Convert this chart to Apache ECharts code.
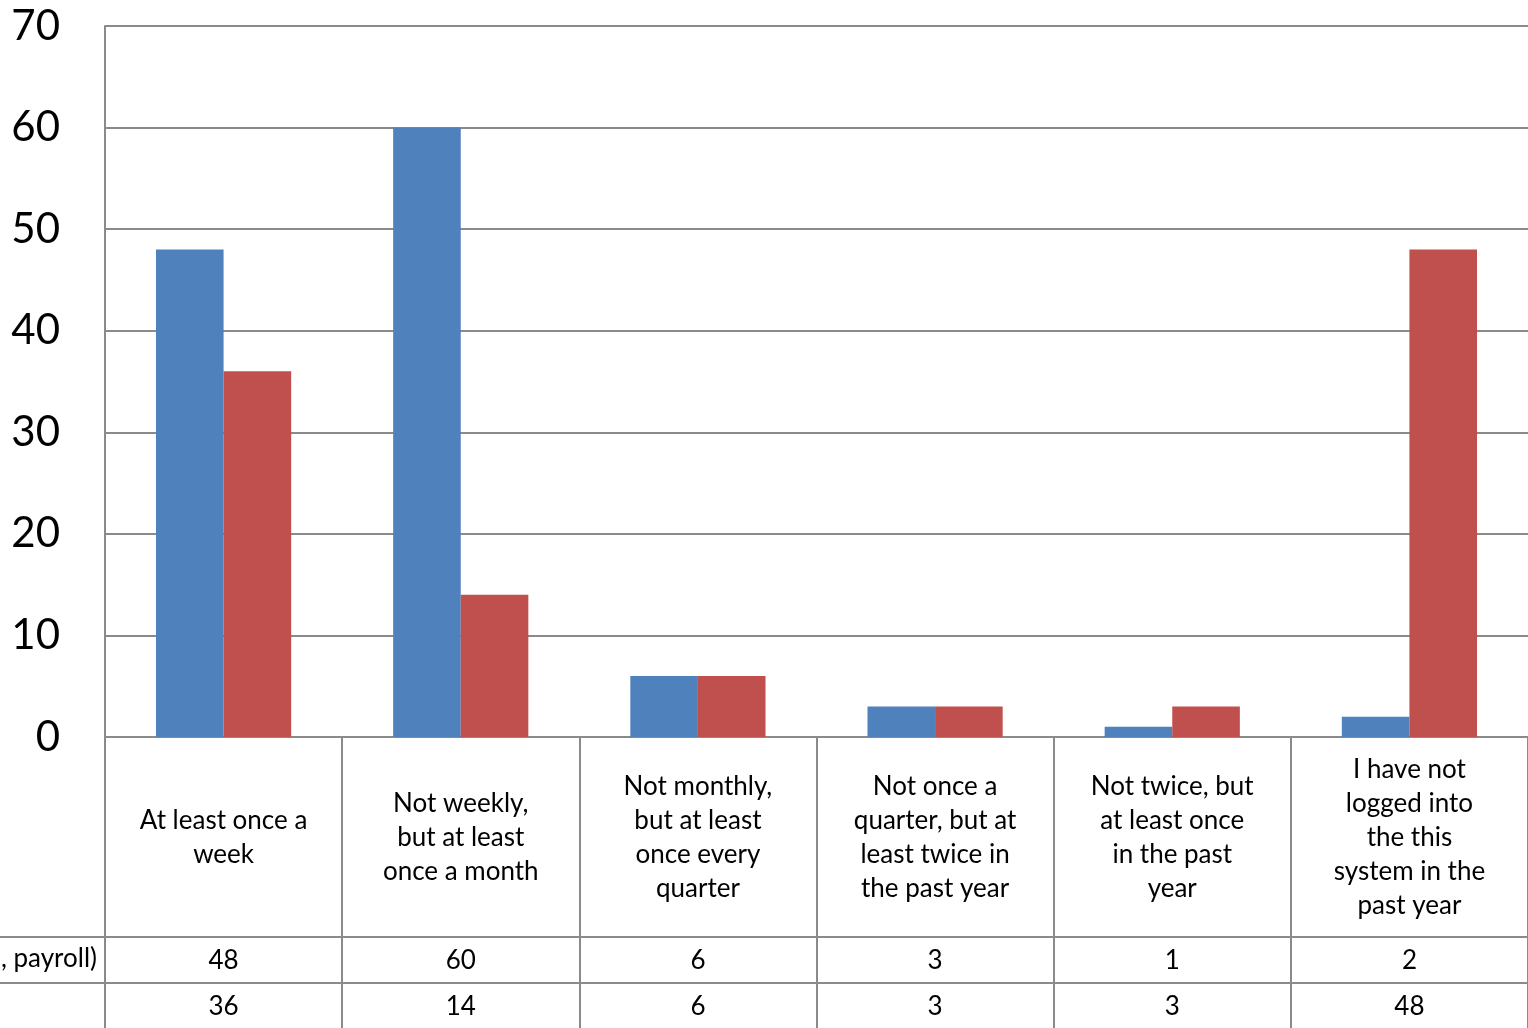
<!DOCTYPE html>
<html>
<head>
<meta charset="utf-8">
<script src="https://cdn.jsdelivr.net/npm/echarts@6/dist/echarts.min.js"></script>
<style>
html,body{margin:0;padding:0;background:#fff;}
#c{width:1528px;height:1028px;}
</style>
</head>
<body>
<div id="c"></div>
<script>
const categories = [
  'At least once a\nweek',
  'Not weekly,\nbut at least\nonce a month',
  'Not monthly,\nbut at least\nonce every\nquarter',
  'Not once a\nquarter, but at\nleast twice in\nthe past year',
  'Not twice, but\nat least once\nin the past\nyear',
  'I have not\nlogged into\nthe this\nsystem in the\npast year'
];
const seriesNames = [', payroll)', ''];
const seriesA = [48, 60, 6, 3, 1, 2];
const seriesB = [36, 14, 6, 3, 3, 48];
const yTicks = { min: 0, max: 70, interval: 10 };

const FONT = 'Lato';
const TS = 26;
const LINE = '#8a8a8a';
const chart = echarts.init(document.getElementById('c'), null, {renderer: 'canvas'});

function tableAxis(data, offset, tickLen) {
  return {
    type: 'category', data: data.map(String), position: 'bottom', offset: offset,
    gridIndex: 0,
    boundaryGap: true,
    axisLine: {show: true, lineStyle: {color: LINE, width: 2}},
    axisTick: {show: true, length: tickLen, lineStyle: {color: LINE, width: 2}},
    axisLabel: {interval: 0, margin: 24, verticalAlign: 'middle', color: '#000',
      fontFamily: FONT, fontSize: TS},
    splitLine: {show: false}
  };
}

chart.setOption({
  animation: false,
  backgroundColor: '#fff',
  grid: {left: 105, right: 0, top: 26, bottom: 291, containLabel: false, outerBoundsMode: 'none'},
  xAxis: [
    {
      type: 'category', data: categories, position: 'bottom', boundaryGap: true,
      axisLine: {show: true, lineStyle: {color: LINE, width: 2}},
      axisTick: {show: true, length: 200, lineStyle: {color: LINE, width: 2}},
      axisLabel: {interval: 0, margin: 101, verticalAlign: 'middle', align: 'center',
        color: '#000', fontFamily: FONT, fontSize: TS, lineHeight: 34},
      splitLine: {show: false}
    },
    tableAxis(seriesA, 200, 46),
    tableAxis(seriesB, 246, 60)
  ],
  yAxis: {
    type: 'value', min: yTicks.min, max: yTicks.max, interval: yTicks.interval,
    axisLine: {show: true, lineStyle: {color: LINE, width: 2}},
    axisTick: {show: false},
    axisLabel: {margin: 45, color: '#000', fontFamily: FONT, fontSize: 42},
    splitLine: {show: true, lineStyle: {color: LINE, width: 2}}
  },
  series: [
    {name: seriesNames[0], type: 'bar', data: seriesA, xAxisIndex: 0,
     itemStyle: {color: '#4F81BD'}, barGap: '0%', barCategoryGap: '43%'},
    {name: seriesNames[1] || 'B', type: 'bar', data: seriesB, xAxisIndex: 0,
     itemStyle: {color: '#C0504D'}, barGap: '0%', barCategoryGap: '43%'}
  ],
  graphic: [
    {type: 'line', shape: {x1: 0, y1: 937, x2: 105, y2: 937}, style: {stroke: LINE, lineWidth: 2}},
    {type: 'line', shape: {x1: 0, y1: 983, x2: 105, y2: 983}, style: {stroke: LINE, lineWidth: 2}},
    {type: 'text', x: 97, y: 959, style: {text: seriesNames[0], fill: '#000',
      font: TS + 'px ' + FONT, textAlign: 'right', textVerticalAlign: 'middle'}}
  ]
});
</script>
</body>
</html>
